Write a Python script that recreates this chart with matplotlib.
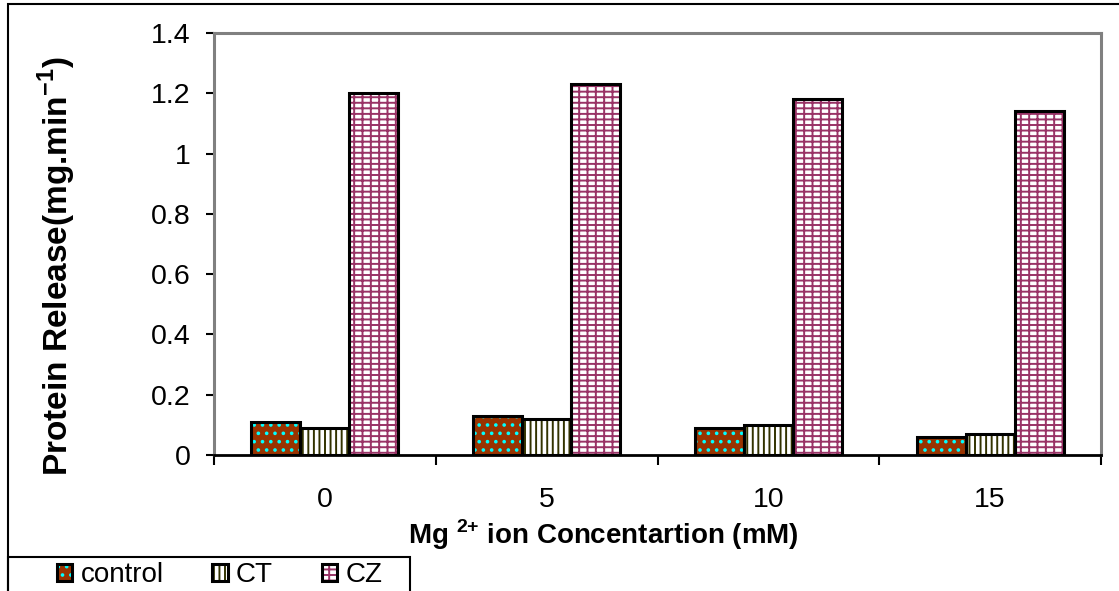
import numpy as np
import matplotlib
matplotlib.use("Agg")
import matplotlib.pyplot as plt
from matplotlib.patches import Rectangle

plt.rcParams["font.family"] = ["Liberation Sans", "DejaVu Sans"]
plt.rcParams["mathtext.fontset"] = "custom"
plt.rcParams["mathtext.rm"] = "Liberation Sans"
plt.rcParams["mathtext.bf"] = "Liberation Sans:bold"
plt.rcParams["hatch.linewidth"] = 1.4

W, H = 1119, 591

# Mg2+ concentration (mM) and protein release per treatment
conc = ["0", "5", "10", "15"]
control = [0.11, 0.13, 0.09, 0.06]
ct = [0.09, 0.12, 0.10, 0.07]
cz = [1.20, 1.23, 1.18, 1.14]

series = [
    ("control", control, "#993300", "#00ffff", ".."),
    ("CT", ct, "white", "#333300", "|||"),
    ("CZ", cz, "white", "#993366", "---||"),
]

fig = plt.figure(figsize=(W / 100, H / 100), dpi=100)
ax = fig.add_axes([214 / W, 1 - 455 / H, (1101 - 214) / W, (455 - 33) / H])

x = np.arange(len(conc))
width = 0.221
handles = []
for i, (name, vals, fill, hcol, hatch) in enumerate(series):
    pos = x + (i - 1) * width
    b1 = ax.bar(pos, vals, width, color=fill, edgecolor=hcol, hatch=hatch,
                linewidth=0, zorder=2)
    b2 = ax.bar(pos, vals, width, fill=False, edgecolor="black",
                linewidth=2.2, zorder=3)
    handles.append((b1[0], b2[0]))

ax.set_xlim(-0.5, 3.5)
ax.set_ylim(0, 1.4)
ax.set_yticks(np.arange(0, 1.41, 0.2))
ax.set_yticklabels(["0", "0.2", "0.4", "0.6", "0.8", "1", "1.2", "1.4"])

# category boundaries carry the tick marks, labels sit between them
ax.set_xticks(np.arange(-0.5, 3.6, 1))
ax.set_xticklabels([])
ax.set_xticks(x, minor=True)
ax.set_xticklabels(conc, minor=True)
ax.tick_params(axis="x", which="major", length=7, width=1.5, color="black")
ax.tick_params(axis="x", which="minor", length=0, pad=23, labelsize=20.5)
ax.tick_params(axis="y", length=6, width=1.5, pad=11, labelsize=20.5)

for side in ["top", "right", "left"]:
    ax.spines[side].set_color("#808080")
    ax.spines[side].set_linewidth(2.2)
ax.spines["bottom"].set_color("black")
ax.spines["bottom"].set_linewidth(2)

fig.text(57 / W, 1 - 266 / H, r"Protein Release(mg.min$^{\mathbf{-1}}$)",
         rotation=90, ha="center", va="center", fontsize=24, fontweight="bold")
fig.text(603 / W, 1 - 535 / H, r"Mg $^{\mathbf{2{+}}}$ ion Concentartion (mM)",
         ha="center", va="center", fontsize=20, fontweight="bold")

# outer chart border and legend box
fig.add_artist(Rectangle((8 / W, -0.1), 1.2, 1.1 - 4 / H, transform=fig.transFigure,
                         fill=False, edgecolor="black", linewidth=1.5))
fig.add_artist(Rectangle((8 / W, -0.1), (410 - 8) / W, 0.1 + 1 - 557 / H,
                         transform=fig.transFigure, fill=False,
                         edgecolor="black", linewidth=1.5))

fig.legend(handles, [s[0] for s in series], loc="center left",
           bbox_to_anchor=(57 / W, 1 - 575 / H), ncol=3, frameon=False,
           fontsize=20, handlelength=0.55, handleheight=0.55, handletextpad=0.3,
           columnspacing=1.75, borderpad=0, borderaxespad=0)

fig.savefig("out.png", dpi=100)
